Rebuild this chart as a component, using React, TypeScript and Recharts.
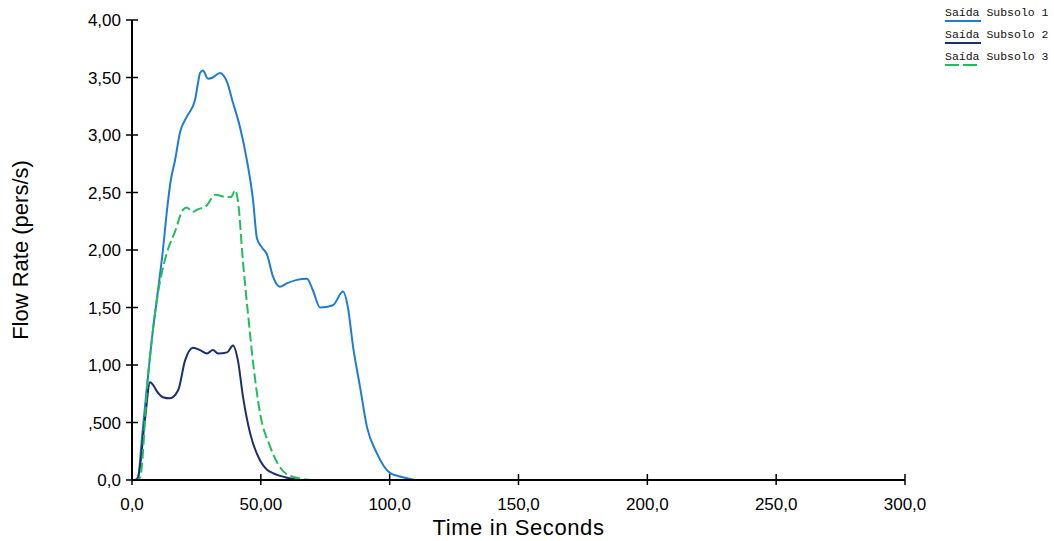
import React from 'react';
import { LineChart, Line, XAxis, YAxis, Legend } from 'recharts';

// tempo (s) e vazão (pers/s)
const s1Times = [0, 1.2, 2.3, 4.0, 5.8, 8.1, 9.7, 12.0, 13.6, 15.0, 16.7, 18.6, 21.3, 24.4, 25.6, 26.4, 27.5, 29.5, 31.4, 34.1, 36.9, 39.2, 41.9, 44.6, 47.0, 48.5, 50.5, 52.4, 54.7, 57.4, 60.1, 64.0, 67.9, 70.2, 73.0, 78.0, 81.9, 83.8, 85.8, 88.5, 91.2, 95.1, 100.2, 104.0, 109.8];
const s1Values = [0, 0, 0.02, 0.4, 0.81, 1.3, 1.58, 2.0, 2.35, 2.6, 2.78, 3.02, 3.16, 3.3, 3.45, 3.54, 3.56, 3.49, 3.5, 3.54, 3.46, 3.28, 3.07, 2.78, 2.43, 2.1, 2.02, 1.96, 1.77, 1.68, 1.71, 1.74, 1.75, 1.65, 1.5, 1.52, 1.64, 1.5, 1.16, 0.81, 0.46, 0.23, 0.06, 0.03, 0];

const s2Times = [0, 1.2, 2.3, 5.0, 7.0, 8.1, 9.7, 12.0, 14.7, 17.9, 20.6, 23.7, 26.4, 29.1, 31.4, 33.4, 36.9, 39.2, 41.1, 43.1, 45.8, 49.7, 52.4, 54.7, 60.1, 65.2];
const s2Values = [0, 0, 0.02, 0.52, 0.85, 0.83, 0.77, 0.72, 0.71, 0.78, 1.04, 1.15, 1.13, 1.1, 1.13, 1.1, 1.11, 1.17, 1.04, 0.72, 0.41, 0.17, 0.09, 0.06, 0.02, 0];

const s3Times = [0, 1.6, 3.1, 6.2, 8.1, 9.7, 13.6, 16.7, 19.8, 21.3, 23.5, 25.2, 29.1, 32.2, 36.9, 38.5, 40.0, 41.1, 43.1, 45.0, 47.0, 49.7, 53.6, 60.1, 66.0, 70.0];
const s3Values = [0, 0, 0.02, 0.9, 1.3, 1.57, 1.98, 2.16, 2.35, 2.37, 2.33, 2.35, 2.39, 2.48, 2.46, 2.46, 2.52, 2.43, 1.89, 1.45, 1.02, 0.58, 0.29, 0.05, 0.01, 0];

const seriesNames = ['Saída Subsolo 1', 'Saída Subsolo 2', 'Saída Subsolo 3'];
const seriesColors = ['#1c7dd2', '#1b2f6c', '#21bd5c'];
const seriesDash = ['', '', '10 4'];

const xTicks = [0, 50, 100, 150, 200, 250, 300];
const xTickLabels = ['0,0', '50,00', '100,0', '150,0', '200,0', '250,0', '300,0'];
const yTicks = [0, 0.5, 1, 1.5, 2, 2.5, 3, 3.5, 4];
const yTickLabels = ['0,0', ',500', '1,00', '1,50', '2,00', '2,50', '3,00', '3,50', '4,00'];

const toPoints = (times: number[], values: number[]) =>
  times.map((t, i) => ({ t, v: values[i] }));

const seriesData = [
  toPoints(s1Times, s1Values),
  toPoints(s2Times, s2Values),
  toPoints(s3Times, s3Values),
];

const FONT = '"Liberation Sans", Arial, sans-serif';

const YTick = (props: any) => {
  const { x, y, payload } = props;
  const label = yTickLabels[yTicks.indexOf(payload.value)];
  return (
    <g>
      <line x1={x - 6} x2={x + 6} y1={y} y2={y} stroke="#000" strokeWidth={1.5} />
      <text x={x - 11} y={y} dy={6} textAnchor="end" fontSize={17} fontFamily={FONT} fill="#000">
        {label}
      </text>
    </g>
  );
};

const XTick = (props: any) => {
  const { x, y, payload } = props;
  const label = xTickLabels[xTicks.indexOf(payload.value)];
  return (
    <g>
      <line x1={x} x2={x} y1={y - 6} y2={y + 5} stroke="#000" strokeWidth={1.5} />
      <text x={x} y={y + 30} textAnchor="middle" fontSize={17} fontFamily={FONT} fill="#000">
        {label}
      </text>
    </g>
  );
};

const LegendBox = () => (
  <svg width={110} height={72}>
    {seriesNames.map((name, i) => (
      <g key={name}>
        <text x={1} y={16 + i * 22} fontSize={11.5} fontFamily='"Liberation Mono", "Courier New", monospace' fill="#111">
          {name}
        </text>
        <line
          x1={1}
          x2={37}
          y1={21 + i * 22}
          y2={21 + i * 22}
          stroke={seriesColors[i]}
          strokeWidth={2}
          strokeDasharray={seriesDash[i] ? '14 4' : undefined}
        />
      </g>
    ))}
  </svg>
);

const App: React.FC = () => {
  return (
    <div style={{ position: 'absolute', left: 0, top: 0, width: 1054, height: 541, background: '#fff' }}>
      <LineChart width={1054} height={541} margin={{ top: 20, right: 149, bottom: 0, left: 0 }}>
        <XAxis
          type="number"
          dataKey="t"
          domain={[0, 300]}
          ticks={xTicks}
          tick={<XTick />}
          tickLine={false}
          tickSize={0}
          tickMargin={0}
          height={61}
          axisLine={{ stroke: '#000', strokeWidth: 2 }}
          allowDataOverflow
          label={{ value: 'Time in Seconds', position: 'insideBottom', offset: 6, fontSize: 22, fontFamily: FONT, fill: '#000', letterSpacing: 0.6 }}
        />
        <YAxis
          type="number"
          dataKey="v"
          domain={[0, 4]}
          ticks={yTicks}
          tick={<YTick />}
          tickLine={false}
          tickSize={0}
          tickMargin={0}
          width={132}
          axisLine={{ stroke: '#000', strokeWidth: 2 }}
          label={{ value: 'Flow Rate (pers/s)', angle: -90, position: 'insideLeft', offset: 20, fontSize: 22, fontFamily: FONT, fill: '#000', style: { textAnchor: 'middle' } }}
        />
        <Legend
          layout="horizontal"
          verticalAlign="middle"
          align="center"
          wrapperStyle={{ left: 944, top: 0, width: 110 }}
          content={() => <LegendBox />}
        />
        {seriesData.map((d, i) => (
          <Line
            key={seriesNames[i]}
            data={d}
            dataKey="v"
            name={seriesNames[i]}
            type="monotone"
            stroke={seriesColors[i]}
            strokeWidth={2}
            strokeDasharray={seriesDash[i] || undefined}
            dot={false}
            activeDot={false}
            isAnimationActive={false}
          />
        ))}
      </LineChart>
    </div>
  );
};

export default App;
